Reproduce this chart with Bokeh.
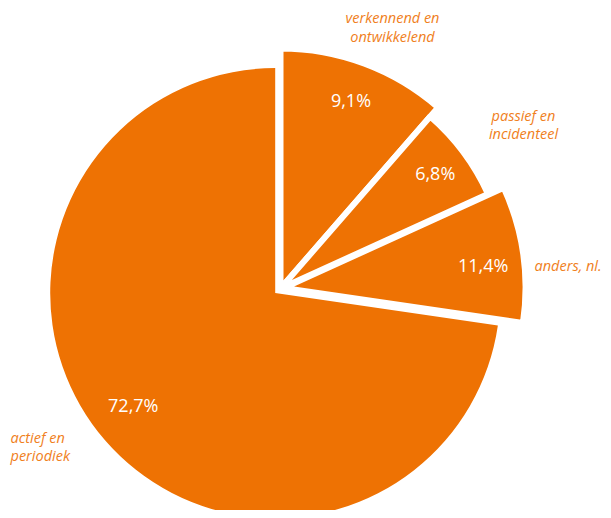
import numpy as np
from bokeh.plotting import figure
from bokeh.models import Range1d, ColumnDataSource
from bokeh.core.properties import value
from bokeh.embed import file_html
from bokeh.resources import INLINE

# ---- data (wedge sizes as drawn in the reference, clockwise from 12 o'clock)
categories = ["verkennend en ontwikkelend", "passief en incidenteel", "anders, nl.", "actief en periodiek"]
shares = [11.4, 6.8, 9.1, 72.7]
pct_labels = ["9,1%", "6,8%", "11,4%", "72,7%"]
cat_lines = [["verkennend en", "ontwikkelend"], ["passief en", "incidenteel"], ["anders, nl."], ["actief en", "periodiek"]]

# ---- layout / style
ORANGE = "#EE7203"
TEXT_ORANGE = "#F0801C"
explode = [0, 0, 3, 7]
radius = [240, 228, 242, 225]
stroke = [6, 6, 6, 0]
pct_r = [201, 193, 204, 188]
pct_dtheta = [0.0, 0.0, -1.6, -2.4]
cat_pos = [[(112, 271, "center"), (112, 252, "center")],
           [(243, 173, "center"), (243, 155, "center")],
           [(254, 23, "left")],
           [(-270, -149, "left"), (-270, -167, "left")]]

vals = np.array(shares, dtype=float)
cum = np.cumsum(vals)
start_deg = 90 - (cum - vals) * 3.6
end_deg = 90 - cum * 3.6
mid_deg = (start_deg + end_deg) / 2
mid = np.deg2rad(mid_deg)

cx = np.array(explode) * np.cos(mid)
cy = np.array(explode) * np.sin(mid)

order = [3, 0, 1, 2]
src = ColumnDataSource(dict(
    x=[cx[i] for i in order],
    y=[cy[i] for i in order],
    r=[radius[i] for i in order],
    s=[np.deg2rad(start_deg[i]) for i in order],
    e=[np.deg2rad(end_deg[i]) for i in order],
    lw=[stroke[i] for i in order],
    la=[1.0 if stroke[i] > 0 else 0.0 for i in order],
    name=[categories[i] for i in order],
))

W, H = 603, 510
p = figure(width=W, height=H, output_backend="svg", toolbar_location=None,
           x_range=Range1d(-280, W - 280), y_range=Range1d(288 - H, 288),
           x_axis_location=None, y_axis_location=None, min_border=0,
           outline_line_color=None, background_fill_color="white", border_fill_color="white")
p.grid.visible = False

p.wedge(x="x", y="y", radius="r", start_angle="s", end_angle="e", direction="clock",
        fill_color=ORANGE, line_color="white", line_width="lw", line_alpha="la", source=src)

# percentage labels
lab_ang = mid + np.deg2rad(pct_dtheta)
px = [pct_r[i] * np.cos(lab_ang[i]) for i in range(4)]
py = [pct_r[i] * np.sin(lab_ang[i]) for i in range(4)]
p.text(x=px, y=py, text=pct_labels, text_color="white", text_font=value("Open Sans"),
       text_font_size="18px", text_align="center", text_baseline="middle")

# category labels
for lines, poss in zip(cat_lines, cat_pos):
    for t, (lx, ly, al) in zip(lines, poss):
        p.text(x=[lx], y=[ly], text=[t], text_color=TEXT_ORANGE, text_font=value("Open Sans"),
               text_font_style="italic", text_font_size="14.5px", text_align=al,
               text_baseline="middle")

open("out.html", "w").write(file_html(p, INLINE))
